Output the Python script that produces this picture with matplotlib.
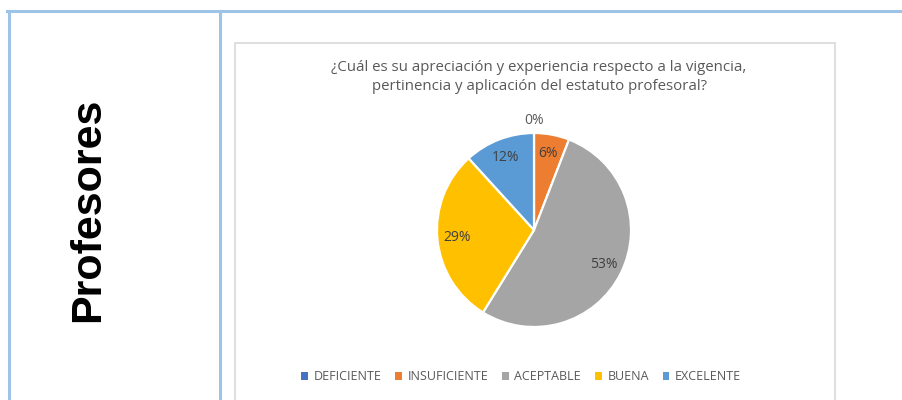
import matplotlib
matplotlib.use("Agg")
import matplotlib.pyplot as plt
from matplotlib.lines import Line2D
from matplotlib.patches import Rectangle
import numpy as np

categories = ["DEFICIENTE", "INSUFICIENTE", "ACEPTABLE", "BUENA", "EXCELENTE"]
counts = [0, 1, 9, 5, 2]
colors = ["#4472C4", "#ED7D31", "#A5A5A5", "#FFC000", "#5B9BD5"]
title = "¿Cuál es su apreciación y experiencia respecto a la vigencia,\npertinencia y aplicación del estatuto profesoral?"
row_label = "Profesores"

W, H = 902, 400
fig = plt.figure(figsize=(W / 100, H / 100), dpi=100)

def fx(x):
    return x / W

def fy(y):
    return 1 - y / H

# Table frame (blue lines)
blue = "#9DC3E6"
fig.add_artist(Line2D([fx(7.5), fx(902)], [fy(10.5), fy(10.5)], color=blue, lw=2.2, zorder=-2))
fig.add_artist(Line2D([fx(8.5), fx(8.5)], [fy(10.5), fy(400)], color=blue, lw=2.2, zorder=-2))
fig.add_artist(Line2D([fx(219.5), fx(219.5)], [fy(10.5), fy(400)], color=blue, lw=2.2, zorder=-2))

# Chart box
fig.add_artist(Rectangle((fx(235), fy(402)), fx(835) - fx(235), fy(43) - fy(402),
                         facecolor="white", edgecolor="#D9D9D9", lw=1.2, zorder=-1))

# Row label
fig.text(fx(88), fy(210), row_label, rotation=90, ha="center", va="center",
         fontsize=31, fontweight="bold", family="Liberation Sans", color="black")

# Title
fig.text(fx(539), fy(77), title, ha="center", va="center", fontsize=10.8,
         family="Open Sans", color="#595959", linespacing=1.45)

# Pie
cx, cy, R = 534, 230, 97
ax = fig.add_axes([fx(cx - R), fy(cy + R), 2 * R / W, 2 * R / H])
wedges, texts, autotexts = ax.pie(
    counts, colors=colors, startangle=90, counterclock=False,
    autopct=lambda p: f"{p:.0f}%", pctdistance=0.8,
    wedgeprops=dict(edgecolor="white", linewidth=1.6),
    textprops=dict(color="#404040", fontsize=10, family="Open Sans"))
for w, t, v in zip(wedges, autotexts, counts):
    if v == 0:
        ang = np.deg2rad((w.theta1 + w.theta2) / 2)
        t.set_position((1.13 * np.cos(ang), 1.13 * np.sin(ang)))
        t.set_color("#595959")
    t.set_clip_on(False)
ax.set_xlim(-1, 1)
ax.set_ylim(-1, 1)
ax.set_aspect("equal")
ax.axis("off")

# Legend
handles = [Rectangle((0, 0), 1, 1, facecolor=c, edgecolor="none") for c in colors]
leg = fig.legend(handles, categories, loc="center", bbox_to_anchor=(fx(521), fy(377)),
                 ncol=5, frameon=False, handlelength=0.55, handleheight=0.55,
                 handletextpad=0.45, columnspacing=1.1,
                 prop=dict(family="Open Sans", size=9))
for t in leg.get_texts():
    t.set_color("#595959")

fig.savefig("out.png", dpi=100, facecolor="white")
